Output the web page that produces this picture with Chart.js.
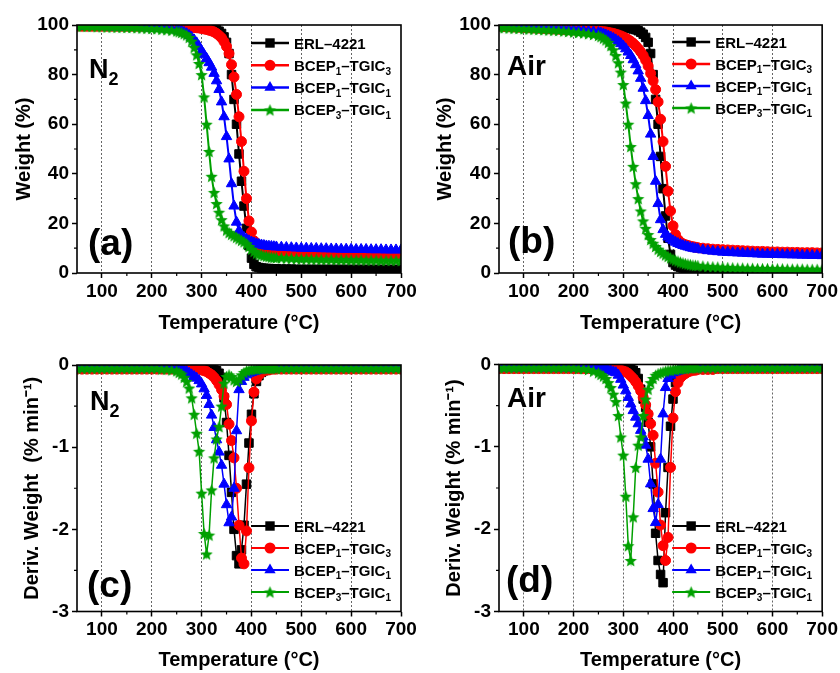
<!DOCTYPE html>
<html>
<head>
<meta charset="utf-8">
<script src="https://cdn.jsdelivr.net/npm/chart.js@4.4.1/dist/chart.umd.min.js"></script>
<style>
  body { margin: 0; background: #fff; }
  #wrap { position: relative; width: 840px; height: 673px; overflow: hidden; background: #fff; }
  canvas { position: absolute; }
</style>
</head>
<body>
<div id="wrap">
  <canvas id="chartA" width="420" height="345" style="left:0;top:0"></canvas>
  <canvas id="chartB" width="420" height="345" style="left:420px;top:0"></canvas>
  <canvas id="chartC" width="420" height="343" style="left:0;top:330px"></canvas>
  <canvas id="chartD" width="420" height="343" style="left:420px;top:330px"></canvas>
</div>
<script>
// ---- data ----
const seriesNames = ['ERL–4221', 'BCEP₁–TGIC₃', 'BCEP₁–TGIC₁', 'BCEP₃–TGIC₁'];
const seriesColors = ['#000000', '#ff0000', '#0000ff', '#00a000'];

const tempTicks = [100, 200, 300, 400, 500, 600, 700];
const tempMinor = [150, 250, 350, 450, 550, 650];
const weightTicks = [0, 20, 40, 60, 80, 100];
const weightMinor = [10, 30, 50, 70, 90];
const derivTicks = [-3, -2, -1, 0];
const derivMinor = [-2.5, -1.5, -0.5];

const temps = [
  50, 60, 70, 80, 90, 100, 110, 120, 130, 140, 150, 160, 170, 180, 190, 200, 210, 220, 230, 240, 250,
  255, 260, 265, 270, 275, 280, 285, 290, 295, 300, 305, 310, 315, 320, 325, 330, 335, 340, 345, 350,
  355, 360, 365, 370, 375, 380, 385, 390, 395, 400, 405, 410, 415, 420, 425, 430, 435, 440, 445, 450,
  460, 470, 480, 490, 500, 510, 520, 530, 540, 550, 560, 570, 580, 590, 600, 610, 620, 630, 640, 650, 660, 670, 680, 690, 700
];

// (a) TGA in N2, weight %
const tgaN2Erl = [
  99.5, 99.5, 99.5, 99.5, 99.5, 99.5, 99.5, 99.5, 99.5, 99.5, 99.5, 99.5, 99.5, 99.5, 99.5, 99.5, 99.5, 99.5, 99.5, 99.5, 99.5,
  99.5, 99.5, 99.5, 99.5, 99.5, 99.5, 99.4, 99.4, 99.3, 99.3, 99.2, 99.1, 99, 98.8, 98.5, 98.1, 97.5, 96.6, 95.2, 93,
  88.5, 80, 70, 60, 48, 37, 27, 18, 11, 6, 3.5, 2.5, 2.2, 2, 1.9, 1.8, 1.8, 1.7, 1.7, 1.7,
  1.6, 1.6, 1.6, 1.5, 1.5, 1.5, 1.5, 1.5, 1.5, 1.5, 1.5, 1.5, 1.5, 1.5, 1.5, 1.5, 1.5, 1.5, 1.5, 1.5, 1.5, 1.5, 1.5, 1.5, 1.5
];
const tgaN2B1T3 = [
  99.5, 99.5, 99.5, 99.5, 99.5, 99.5, 99.5, 99.5, 99.5, 99.5, 99.5, 99.5, 99.5, 99.5, 99.5, 99.5, 99.5, 99.5, 99.5, 99.5, 99.5,
  99.4, 99.4, 99.3, 99.3, 99.2, 99.1, 99, 98.9, 98.8, 98.6, 98.4, 98.2, 97.9, 97.6, 97.2, 96.6, 95.8, 94.8, 93.3, 91.3,
  88.5, 84, 79, 72, 63, 53, 41, 30, 21, 16.5, 13, 11.5, 10.5, 10, 9.6, 9.3, 9.1, 8.9, 8.8, 8.7,
  8.6, 8.5, 8.4, 8.3, 8.2, 8.2, 8.1, 8.1, 8, 8, 7.9, 7.9, 7.8, 7.8, 7.8, 7.7, 7.7, 7.7, 7.6, 7.6, 7.6, 7.5, 7.5, 7.5, 7.5
];
const tgaN2B1T1 = [
  99.5, 99.5, 99.5, 99.4, 99.4, 99.4, 99.3, 99.3, 99.2, 99.2, 99.1, 99.1, 99, 99, 98.9, 98.8, 98.7, 98.6, 98.4, 98.2, 98,
  97.7, 97.4, 97, 96.5, 95.8, 95, 94, 92.8, 91.3, 89.5, 88, 86.5, 84.8, 83, 80.5, 77.5, 74, 69, 63, 55,
  46, 36, 27, 20.5, 17, 15.3, 14.3, 13.6, 13, 12.5, 12.1, 11.8, 11.5, 11.3, 11.1, 10.9, 10.8, 10.7, 10.6, 10.5,
  10.4, 10.3, 10.2, 10.1, 10, 10, 9.9, 9.9, 9.8, 9.8, 9.7, 9.7, 9.6, 9.6, 9.6, 9.5, 9.5, 9.5, 9.4, 9.4, 9.4, 9.3, 9.3, 9.3, 9.3
];
const tgaN2B3T1 = [
  99.5, 99.5, 99.4, 99.4, 99.3, 99.3, 99.2, 99.2, 99.1, 99.1, 99, 99, 98.9, 98.8, 98.7, 98.6, 98.5, 98.3, 98.1, 97.9, 97.6,
  97.3, 97, 96.5, 96, 95, 93.5, 91, 88, 84.5, 80, 71, 60, 49, 39, 32.5, 28, 24.5, 21.5, 19, 17.3,
  16.3, 15.6, 15, 14.4, 13.8, 13.2, 12.6, 11.8, 10.7, 9.6, 8.7, 8, 7.6, 7.3, 7, 6.8, 6.6, 6.4, 6.3, 6.2,
  6.1, 6, 5.9, 5.8, 5.7, 5.7, 5.6, 5.6, 5.5, 5.5, 5.5, 5.4, 5.4, 5.4, 5.3, 5.3, 5.3, 5.2, 5.2, 5.2, 5.1, 5.1, 5.1, 5.1, 5
];

// (b) TGA in air, weight %
const tgaAirErl = [
  99.5, 99.5, 99.5, 99.5, 99.5, 99.5, 99.5, 99.5, 99.5, 99.5, 99.5, 99.5, 99.5, 99.5, 99.5, 99.5, 99.5, 99.5, 99.5, 99.5, 99.5,
  99.5, 99.5, 99.5, 99.4, 99.4, 99.3, 99.3, 99.2, 99.1, 99, 98.9, 98.8, 98.6, 98.4, 98.1, 97.7, 97.1, 96.3, 95, 93,
  88.5, 80, 70, 60, 47, 34, 23, 14, 7.5, 4.2, 3.2, 2.6, 2.3, 2, 1.8, 1.7, 1.6, 1.5, 1.4, 1.3,
  1.1, 1, 0.9, 0.8, 0.7, 0.6, 0.5, 0.4, 0.35, 0.3, 0.25, 0.2, 0.2, 0.15, 0.15, 0.1, 0.1, 0.1, 0.1, 0.1, 0.1, 0.1, 0.1, 0.1, 0.1
];
const tgaAirB1T3 = [
  99.5, 99.4, 99.3, 99.2, 99.1, 99, 98.9, 98.8, 98.7, 98.6, 98.5, 98.4, 98.3, 98.2, 98.1, 98, 97.9, 97.8, 97.7, 97.6, 97.5,
  97.4, 97.3, 97.2, 97, 96.8, 96.6, 96.3, 96, 95.6, 95.2, 94.7, 94.1, 93.4, 92.6, 91.6, 90.5, 89.2, 87.7, 85.8, 83.5,
  80.5, 77.5, 74, 69, 62, 53, 43, 33, 25, 19, 15.5, 13.5, 12.4, 11.8, 11.4, 11.1, 10.8, 10.6, 10.4, 10.2,
  10, 9.8, 9.6, 9.5, 9.4, 9.3, 9.2, 9.1, 9, 8.9, 8.8, 8.7, 8.7, 8.6, 8.5, 8.5, 8.4, 8.4, 8.3, 8.3, 8.2, 8.2, 8.2, 8.1, 8.1
];
const tgaAirB1T1 = [
  99.5, 99.4, 99.3, 99.2, 99.1, 99, 98.9, 98.8, 98.7, 98.6, 98.5, 98.4, 98.3, 98.2, 98.1, 98, 97.9, 97.7, 97.5, 97.3, 97,
  96.7, 96.4, 96, 95.6, 95.1, 94.6, 94, 93.3, 92.5, 91.5, 90.4, 89.1, 87.7, 86, 84, 81.5, 78.5, 74.5, 69.5, 63.5,
  56, 47, 37, 28, 21.5, 17.5, 15.6, 14.5, 13.7, 13, 12.4, 11.9, 11.5, 11.1, 10.8, 10.5, 10.2, 10, 9.8, 9.6,
  9.3, 9, 8.8, 8.6, 8.4, 8.3, 8.2, 8.1, 8, 7.9, 7.8, 7.7, 7.6, 7.6, 7.5, 7.5, 7.4, 7.4, 7.3, 7.3, 7.2, 7.2, 7.1, 7.1, 7
];
const tgaAirB3T1 = [
  99, 98.9, 98.8, 98.7, 98.6, 98.5, 98.4, 98.3, 98.2, 98.1, 98, 97.9, 97.8, 97.6, 97.4, 97.2, 97, 96.8, 96.5, 96.2, 95.8,
  95.3, 94.7, 94, 93, 91.7, 90, 87.7, 84.8, 81, 76, 68.5, 60, 51, 43, 36, 30, 25, 21, 18, 15.5,
  13.5, 12, 10.7, 9.6, 8.7, 8, 7.3, 6.7, 6.1, 5.6, 5.2, 4.8, 4.4, 4.1, 3.8, 3.6, 3.4, 3.2, 3.1, 3,
  2.8, 2.6, 2.5, 2.4, 2.3, 2.2, 2.1, 2, 2, 1.9, 1.9, 1.8, 1.8, 1.8, 1.7, 1.7, 1.7, 1.6, 1.6, 1.6, 1.6, 1.5, 1.5, 1.5, 1.5
];

// (c) DTG in N2, % per min
const dtgN2Erl = [
  -0.03, -0.03, -0.03, -0.03, -0.03, -0.03, -0.03, -0.03, -0.03, -0.03, -0.03, -0.03, -0.03, -0.03, -0.03, -0.03, -0.03, -0.03, -0.03, -0.03, -0.03,
  -0.03, -0.03, -0.03, -0.03, -0.03, -0.03, -0.03, -0.03, -0.03, -0.03, -0.04, -0.04, -0.05, -0.05, -0.06, -0.07, -0.1, -0.15, -0.4, -0.7,
  -1.1, -1.55, -2, -2.32, -2.42, -2.25, -1.95, -1.45, -0.95, -0.6, -0.35, -0.2, -0.13, -0.09, -0.07, -0.06, -0.05, -0.05, -0.04, -0.04,
  -0.04, -0.04, -0.04, -0.04, -0.04, -0.04, -0.04, -0.04, -0.04, -0.04, -0.04, -0.04, -0.04, -0.04, -0.04, -0.04, -0.04, -0.04, -0.04, -0.04, -0.04, -0.04, -0.04, -0.04, -0.04
];
const dtgN2B1T3 = [
  -0.05, -0.05, -0.05, -0.05, -0.05, -0.05, -0.05, -0.05, -0.05, -0.05, -0.05, -0.05, -0.05, -0.05, -0.05, -0.05, -0.05, -0.05, -0.05, -0.05, -0.05,
  -0.05, -0.05, -0.05, -0.05, -0.05, -0.05, -0.05, -0.05, -0.05, -0.06, -0.07, -0.08, -0.1, -0.12, -0.15, -0.19, -0.24, -0.3, -0.38, -0.48,
  -0.72, -0.92, -1.13, -1.5, -1.95, -2.35, -2.42, -2.02, -1.25, -0.68, -0.33, -0.17, -0.12, -0.09, -0.07, -0.06, -0.06, -0.05, -0.05, -0.05,
  -0.05, -0.05, -0.05, -0.05, -0.05, -0.05, -0.05, -0.05, -0.05, -0.05, -0.05, -0.05, -0.05, -0.05, -0.05, -0.05, -0.05, -0.05, -0.05, -0.05, -0.05, -0.05, -0.05, -0.05, -0.05
];
const dtgN2B1T1 = [
  -0.04, -0.04, -0.04, -0.04, -0.04, -0.04, -0.04, -0.04, -0.04, -0.04, -0.04, -0.04, -0.04, -0.04, -0.04, -0.04, -0.04, -0.04, -0.04, -0.04, -0.05,
  -0.05, -0.06, -0.07, -0.08, -0.1, -0.12, -0.14, -0.16, -0.19, -0.23, -0.29, -0.37, -0.48, -0.61, -0.76, -0.91, -1.06, -1.22, -1.45, -1.7,
  -1.92, -1.85, -1.5, -0.8, -0.3, -0.2, -0.15, -0.12, -0.1, -0.09, -0.08, -0.07, -0.06, -0.06, -0.05, -0.05, -0.05, -0.05, -0.04, -0.04,
  -0.04, -0.04, -0.04, -0.04, -0.04, -0.04, -0.04, -0.04, -0.04, -0.04, -0.04, -0.04, -0.04, -0.04, -0.04, -0.04, -0.04, -0.04, -0.04, -0.04, -0.04, -0.04, -0.04, -0.04, -0.04
];
const dtgN2B3T1 = [
  -0.04, -0.04, -0.04, -0.04, -0.04, -0.04, -0.04, -0.04, -0.04, -0.04, -0.04, -0.04, -0.04, -0.04, -0.04, -0.04, -0.04, -0.05, -0.05, -0.06, -0.07,
  -0.09, -0.11, -0.15, -0.2, -0.28, -0.4, -0.6, -0.83, -1.05, -1.56, -2.05, -2.3, -2.07, -1.52, -1.13, -0.9, -0.75, -0.5, -0.22, -0.14,
  -0.12, -0.14, -0.18, -0.2, -0.17, -0.12, -0.09, -0.07, -0.06, -0.05, -0.05, -0.05, -0.04, -0.04, -0.04, -0.04, -0.04, -0.04, -0.04, -0.04,
  -0.04, -0.04, -0.04, -0.04, -0.04, -0.04, -0.04, -0.04, -0.04, -0.04, -0.04, -0.04, -0.04, -0.04, -0.04, -0.04, -0.04, -0.04, -0.04, -0.04, -0.04, -0.04, -0.04, -0.04, -0.04
];

// (d) DTG in air, % per min
const dtgAirErl = [
  -0.03, -0.03, -0.03, -0.03, -0.03, -0.03, -0.03, -0.03, -0.03, -0.03, -0.03, -0.03, -0.03, -0.03, -0.03, -0.03, -0.03, -0.03, -0.03, -0.03, -0.03,
  -0.03, -0.03, -0.03, -0.03, -0.03, -0.03, -0.03, -0.03, -0.03, -0.03, -0.03, -0.04, -0.05, -0.07, -0.1, -0.17, -0.3, -0.42, -0.52, -0.7,
  -1, -1.45, -2.05, -2.38, -2.55, -2.65, -1.8, -1.25, -0.75, -0.42, -0.22, -0.13, -0.09, -0.07, -0.06, -0.05, -0.05, -0.04, -0.04, -0.04,
  -0.04, -0.04, -0.04, -0.04, -0.04, -0.04, -0.04, -0.04, -0.04, -0.04, -0.04, -0.04, -0.04, -0.04, -0.04, -0.04, -0.04, -0.04, -0.04, -0.04, -0.04, -0.04, -0.04, -0.04, -0.04
];
const dtgAirB1T3 = [
  -0.05, -0.05, -0.05, -0.05, -0.05, -0.05, -0.05, -0.05, -0.05, -0.05, -0.05, -0.05, -0.05, -0.05, -0.05, -0.05, -0.05, -0.05, -0.05, -0.05, -0.05,
  -0.05, -0.05, -0.05, -0.05, -0.05, -0.05, -0.06, -0.06, -0.07, -0.08, -0.09, -0.11, -0.14, -0.17, -0.21, -0.26, -0.32, -0.4, -0.49, -0.6,
  -0.72, -0.86, -1.2, -1.55, -1.95, -2.2, -2.38, -2.1, -1.25, -0.65, -0.33, -0.22, -0.16, -0.13, -0.11, -0.09, -0.08, -0.07, -0.07, -0.06,
  -0.06, -0.06, -0.06, -0.05, -0.05, -0.05, -0.05, -0.05, -0.05, -0.05, -0.05, -0.05, -0.05, -0.05, -0.05, -0.05, -0.05, -0.05, -0.05, -0.05, -0.05, -0.05, -0.05, -0.05, -0.05
];
const dtgAirB1T1 = [
  -0.04, -0.04, -0.04, -0.04, -0.04, -0.04, -0.04, -0.04, -0.04, -0.04, -0.04, -0.04, -0.04, -0.04, -0.04, -0.04, -0.04, -0.04, -0.04, -0.04, -0.04,
  -0.05, -0.05, -0.06, -0.07, -0.08, -0.09, -0.1, -0.13, -0.18, -0.25, -0.32, -0.4, -0.48, -0.56, -0.64, -0.72, -0.8, -0.88, -0.98, -1.15,
  -1.45, -1.75, -1.92, -1.7, -1.15, -0.6, -0.28, -0.17, -0.13, -0.1, -0.09, -0.08, -0.07, -0.06, -0.06, -0.05, -0.05, -0.05, -0.05, -0.04,
  -0.04, -0.04, -0.04, -0.04, -0.04, -0.04, -0.04, -0.04, -0.04, -0.04, -0.04, -0.04, -0.04, -0.04, -0.04, -0.04, -0.04, -0.04, -0.04, -0.04, -0.04, -0.04, -0.04, -0.04, -0.04
];
const dtgAirB3T1 = [
  -0.04, -0.04, -0.04, -0.04, -0.04, -0.04, -0.04, -0.04, -0.04, -0.04, -0.04, -0.04, -0.04, -0.04, -0.04, -0.04, -0.05, -0.05, -0.06, -0.08, -0.1,
  -0.12, -0.14, -0.17, -0.22, -0.28, -0.36, -0.45, -0.62, -0.88, -1.1, -1.6, -2.2, -2.38, -1.85, -1.25, -0.98, -0.88, -0.62, -0.42, -0.3,
  -0.22, -0.17, -0.13, -0.11, -0.1, -0.09, -0.08, -0.07, -0.07, -0.06, -0.06, -0.05, -0.05, -0.05, -0.05, -0.04, -0.04, -0.04, -0.04, -0.04,
  -0.04, -0.04, -0.04, -0.04, -0.04, -0.04, -0.04, -0.04, -0.04, -0.04, -0.04, -0.04, -0.04, -0.04, -0.04, -0.04, -0.04, -0.04, -0.04, -0.04, -0.04, -0.04, -0.04, -0.04, -0.04
];

// ---- drawing ----
const FONT = 'Arial, "Liberation Sans", sans-serif';
Chart.defaults.font.family = FONT;
Chart.defaults.color = '#000';

const SUBS = '₀₁₂₃₄₅₆₇₈₉';

function starPath(g, cx, cy, r) {
  g.beginPath();
  for (let i = 0; i < 10; i++) {
    const rr = i % 2 === 0 ? r : r * 0.45;
    const a = -Math.PI / 2 + i * Math.PI / 5;
    const px = cx + rr * Math.cos(a), py = cy + rr * Math.sin(a);
    if (i === 0) g.moveTo(px, py); else g.lineTo(px, py);
  }
  g.closePath();
}

function makeStar(color, r) {
  const c = document.createElement('canvas');
  const s = Math.ceil(r * 2 + 2);
  c.width = s; c.height = s;
  const g = c.getContext('2d');
  starPath(g, s / 2, s / 2 + r * 0.1, r);
  g.fillStyle = color;
  g.fill();
  return c;
}

const starImg = makeStar(seriesColors[3], 6.5);
const markerStyles = ['rect', 'circle', 'triangle', starImg];
const markerRadius = [6, 5, 6, 6];

function drawRich(ctx, text, x, y, size) {
  for (const ch of text) {
    const k = SUBS.indexOf(ch);
    if (k >= 0) {
      ctx.font = 'bold ' + Math.round(size * 0.68) + 'px ' + FONT;
      ctx.fillText(String(k), x, y + size * 0.26);
      x += ctx.measureText(String(k)).width;
    } else {
      ctx.font = 'bold ' + size + 'px ' + FONT;
      ctx.fillText(ch, x, y);
      x += ctx.measureText(ch).width;
    }
  }
}

function drawMarker(ctx, i, x, y, color) {
  ctx.fillStyle = color;
  if (i === 0) {
    ctx.fillRect(x - 4.7, y - 4.7, 9.4, 9.4);
  } else if (i === 1) {
    ctx.beginPath(); ctx.arc(x, y, 5.5, 0, Math.PI * 2); ctx.fill();
  } else if (i === 2) {
    const r = 6.5;
    ctx.beginPath();
    ctx.moveTo(x, y - r);
    ctx.lineTo(x + r * 0.866, y + r * 0.5);
    ctx.lineTo(x - r * 0.866, y + r * 0.5);
    ctx.closePath(); ctx.fill();
  } else {
    ctx.drawImage(starImg, x - starImg.width / 2, y - starImg.height / 2);
  }
}

const panelDecor = {
  id: 'panelDecor',
  afterDraw(chart, args, o) {
    const { ctx, chartArea: a, scales } = chart;
    ctx.save();
    ctx.strokeStyle = '#000';
    ctx.lineWidth = 1.2;
    ctx.beginPath();
    o.xMinor.forEach(v => {
      const px = scales.x.getPixelForValue(v);
      ctx.moveTo(px, a.bottom); ctx.lineTo(px, a.bottom + 3);
    });
    o.yMinor.forEach(v => {
      const py = scales.y.getPixelForValue(v);
      ctx.moveTo(a.left - 3, py); ctx.lineTo(a.left, py);
    });
    ctx.stroke();

    ctx.lineWidth = 1.6;
    ctx.strokeRect(a.left, a.top, a.right - a.left, a.bottom - a.top);

    ctx.fillStyle = '#000';
    ctx.textBaseline = 'alphabetic';
    ctx.textAlign = 'left';
    drawRich(ctx, o.atm, a.left + o.atmDx, a.top + o.atmDy, o.atmSize);
    ctx.font = 'bold 37px ' + FONT;
    ctx.fillText(o.letter, a.left + o.letterDx, a.bottom + o.letterDy);

    chart.data.datasets.forEach((ds, i) => {
      const y = o.legendFromBottom ? a.bottom + o.legendY0 + i * o.legendGap : a.top + o.legendY0 + i * o.legendGap;
      const x0 = a.right - 150, x1 = a.right - 112;
      ctx.strokeStyle = ds.borderColor;
      ctx.lineWidth = ds.borderWidth + 0.5;
      ctx.beginPath(); ctx.moveTo(x0, y); ctx.lineTo(x1, y); ctx.stroke();
      drawMarker(ctx, i, (x0 + x1) / 2, y, ds.borderColor);
      ctx.fillStyle = '#000';
      drawRich(ctx, ds.label, a.right - 107, y + 5.5, 15);
    });
    ctx.restore();
  }
};

function buildDatasets(valueLists, lineWidth) {
  return valueLists.map((vals, i) => ({
    label: seriesNames[i],
    data: temps.map((t, j) => ({ x: t, y: vals[j] })),
    borderColor: seriesColors[i],
    backgroundColor: seriesColors[i],
    borderWidth: lineWidth,
    pointStyle: markerStyles[i],
    pointRadius: markerRadius[i],
    pointBorderWidth: 1,
    pointBackgroundColor: seriesColors[i],
    pointBorderColor: seriesColors[i],
    tension: 0,
    order: 4 - i
  }));
}

const tickFont = { size: 19, weight: 'bold', family: FONT };
const titleFont = { size: 20, weight: 'bold', family: FONT };

function makeChart(id, p) {
  const isTga = p.kind === 'tga';
  return new Chart(document.getElementById(id), {
    type: 'line',
    data: { datasets: buildDatasets(p.values, isTga ? 2 : 1.5) },
    options: {
      responsive: false,
      animation: false,
      parsing: true,
      layout: { padding: { left: 0, right: p.padRight, top: p.padTop, bottom: 0 } },
      plugins: {
        legend: { display: false },
        tooltip: { enabled: false },
        panelDecor: p.decor
      },
      scales: {
        x: {
          type: 'linear', min: 50, max: 700,
          afterBuildTicks: s => { s.ticks = tempTicks.map(v => ({ value: v })); },
          afterFit: s => { s.height = p.xHeight; },
          grid: {
            color: c => (c.tick && c.tick.value < 700) ? '#666' : 'rgba(0,0,0,0)',
            lineWidth: 1, tickColor: '#000', tickLength: 5, tickWidth: 1.5
          },
          border: { display: false, dash: [2, 2] },
          ticks: { color: '#000', font: tickFont, padding: 2, maxRotation: 0, autoSkip: false },
          title: { display: true, text: 'Temperature (°C)', color: '#000', font: titleFont, padding: { top: 0, bottom: p.xTitlePad } }
        },
        y: {
          type: 'linear', min: isTga ? 0 : -3, max: isTga ? 100 : 0,
          afterBuildTicks: s => { s.ticks = (isTga ? weightTicks : derivTicks).map(v => ({ value: v })); },
          afterFit: s => { s.width = p.yWidth; },
          grid: { color: 'rgba(0,0,0,0)', tickColor: '#000', tickLength: 5, tickWidth: 1.5 },
          border: { display: false },
          ticks: { color: '#000', font: tickFont, padding: 3 },
          title: { display: true, text: p.yTitle, color: '#000', font: titleFont, padding: { top: p.yTitlePad, bottom: 0 } }
        }
      }
    },
    plugins: [panelDecor]
  });
}

makeChart('chartA', {
  kind: 'tga', values: [tgaN2Erl, tgaN2B1T3, tgaN2B1T1, tgaN2B3T1],
  padTop: 25, padRight: 19, yWidth: 77, xHeight: 72, xTitlePad: 10, yTitlePad: 12,
  yTitle: 'Weight (%)',
  decor: { atm: 'N₂', atmSize: 27, atmDx: 12, atmDy: 53, letter: '(a)', letterDx: 11, letterDy: -18,
    legendFromBottom: false, legendY0: 18, legendGap: 22.3, xMinor: tempMinor, yMinor: weightMinor }
});
makeChart('chartB', {
  kind: 'tga', values: [tgaAirErl, tgaAirB1T3, tgaAirB1T1, tgaAirB3T1],
  padTop: 25, padRight: 17, yWidth: 79, xHeight: 72, xTitlePad: 10, yTitlePad: 13,
  yTitle: 'Weight (%)',
  decor: { atm: 'Air', atmSize: 28, atmDx: 8, atmDy: 50, letter: '(b)', letterDx: 9, letterDy: -20,
    legendFromBottom: false, legendY0: 17, legendGap: 22, xMinor: tempMinor, yMinor: weightMinor }
});
makeChart('chartC', {
  kind: 'dtg', values: [dtgN2Erl, dtgN2B1T3, dtgN2B1T1, dtgN2B3T1],
  padTop: 35, padRight: 19, yWidth: 77, xHeight: 61.5, xTitlePad: 1, yTitlePad: 20,
  yTitle: 'Deriv. Weight  (% min⁻¹)',
  decor: { atm: 'N₂', atmSize: 27, atmDx: 13, atmDy: 45, letter: '(c)', letterDx: 10, letterDy: -14.5,
    legendFromBottom: true, legendY0: -85.5, legendGap: 22, xMinor: tempMinor, yMinor: derivMinor }
});
makeChart('chartD', {
  kind: 'dtg', values: [dtgAirErl, dtgAirB1T3, dtgAirB1T1, dtgAirB3T1],
  padTop: 34.5, padRight: 17, yWidth: 79, xHeight: 61.5, xTitlePad: 1, yTitlePad: 22,
  yTitle: 'Deriv. Weight (% min⁻¹)',
  decor: { atm: 'Air', atmSize: 28, atmDx: 8, atmDy: 42, letter: '(d)', letterDx: 7, letterDy: -20,
    legendFromBottom: true, legendY0: -85.5, legendGap: 22, xMinor: tempMinor, yMinor: derivMinor }
});
</script>
</body>
</html>
